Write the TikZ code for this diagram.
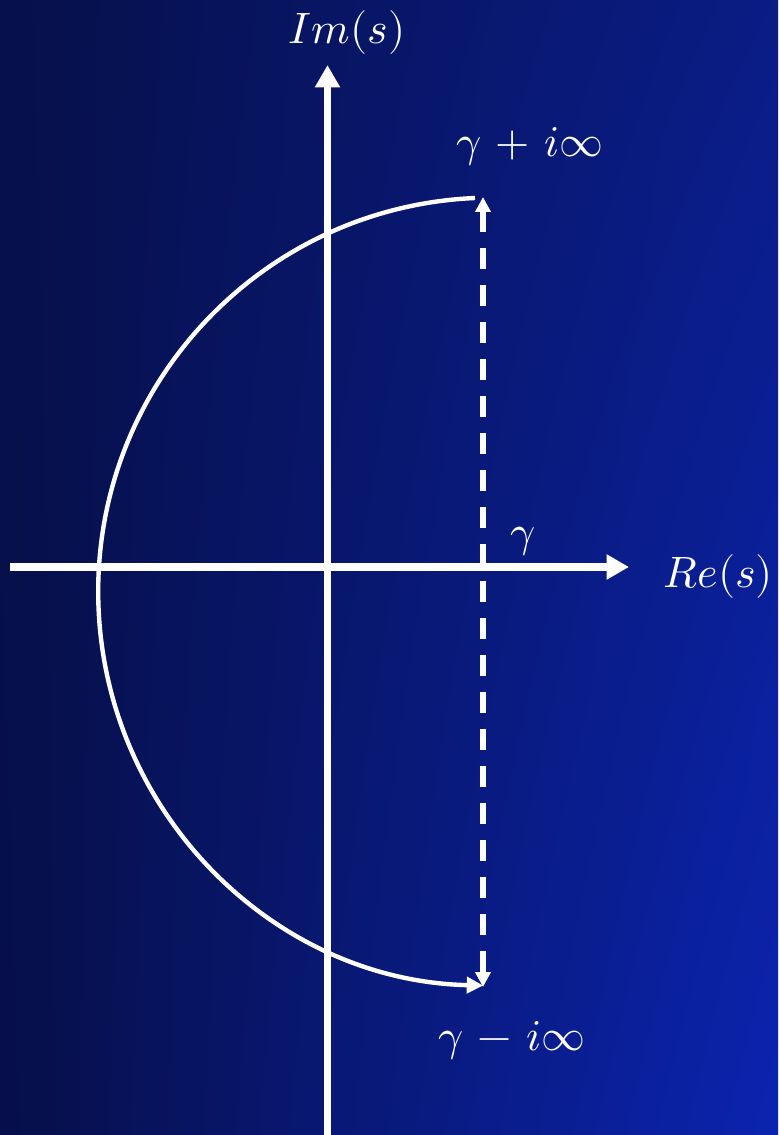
\documentclass[tikz,border=0pt]{standalone}
\usepackage{unicode-math}
\usetikzlibrary{arrows.meta,shadings}
\definecolor{bgul}{RGB}{6,16,74}
\definecolor{bgur}{RGB}{10,28,133}
\definecolor{bgll}{RGB}{6,15,72}
\definecolor{bglr}{RGB}{11,36,176}
\begin{document}
\begin{tikzpicture}[x=0.02cm,y=-0.02cm,
  axisline/.style={white,line width=4.5pt},
  arcline/.style={white,line width=2.5pt},
  dashline/.style={white,line width=3.1pt,dash pattern=on 0.42cm off 0.32cm},
  lbl/.style={text=white,inner sep=0pt,font=\fontsize{25}{29}\selectfont}]
\useasboundingbox (0,0) rectangle (778,1135);
\shade[upper left=bgul,upper right=bgur,lower left=bgll,lower right=bglr]
  (0,0) rectangle (778,1135);
% coordinates
\coordinate (ybot) at (327.5,1135);
\coordinate (ytop) at (327.5,65);
\coordinate (xleft) at (10,567);
\coordinate (xright) at (629,567);
\coordinate (gtop) at (483,197);
\coordinate (gbot) at (483,987);
\coordinate (arcstart) at (475,198);
% axes
\draw[axisline,-{Triangle[length=0.45cm,width=0.48cm]}] (ybot) -- (ytop);
\draw[axisline,-{Triangle[length=0.45cm,width=0.48cm]}] (xleft) -- (xright);
% dashed line
\draw[dashline,{Triangle[length=0.3cm,width=0.3cm]}-{Triangle[length=0.3cm,width=0.3cm]}] (gtop) -- (gbot);
% arc
\draw[arcline,-{Triangle[length=0.33cm,width=0.32cm]}] (arcstart) arc[start angle=267.5,end angle=91.3,radius=394];
% labels
\node[lbl] (im) at (347,33) {$Im(s)$};
\node[lbl] (re) at (718,577) {$Re(s)$};
\node[lbl,anchor=base] (gp) at (530,157) {$\gamma\mskip2mu+\mskip2mu i\infty$};
\node[lbl,anchor=base] (gm) at (512,1050) {$\gamma\mskip2mu-\mskip2mu i\infty$};
\node[lbl,anchor=base] (g) at (523,546) {$\mupgamma$};
\end{tikzpicture}
\end{document}
